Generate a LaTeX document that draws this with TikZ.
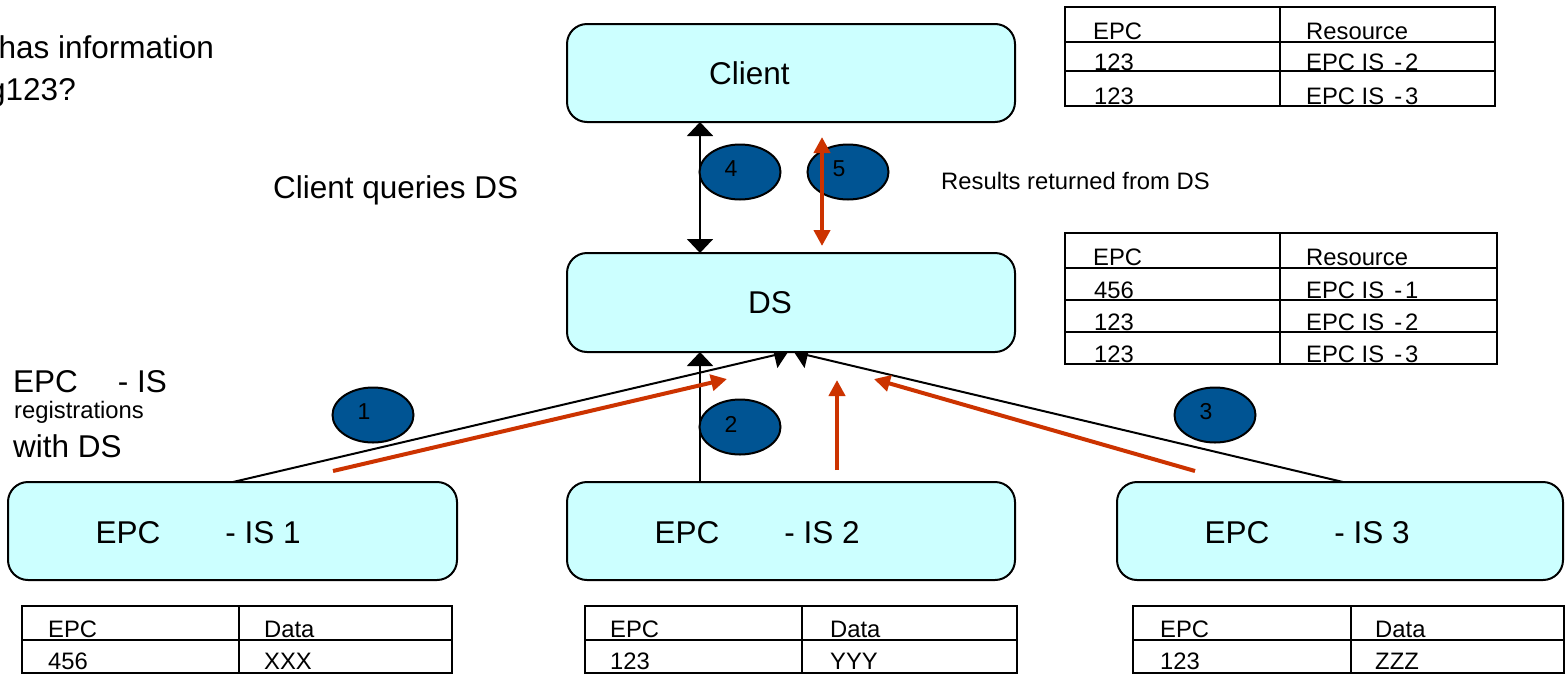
\documentclass[tikz,border=0pt]{standalone}
\usepackage{fontspec}
\setmainfont{Liberation Sans}
\usetikzlibrary{arrows.meta,shapes.geometric,calc}
\pgfdeclarelayer{background}
\pgfsetlayers{background,main}
\definecolor{boxfill}{RGB}{204,255,255}
\definecolor{numfill}{RGB}{0,84,147}
\definecolor{redarr}{RGB}{204,51,0}
\begin{document}
\begin{tikzpicture}[x=1pt,y=-1pt,
  box/.style={draw=black,line width=2pt,fill=boxfill,rounded corners=20pt,minimum width=448pt,minimum height=98pt,inner sep=0pt,outer sep=0pt},
  num/.style={ellipse,draw=black,line width=2pt,fill=numfill,minimum width=81pt,minimum height=55pt,inner sep=0pt,outer sep=0pt},
  digit/.style={font=\fontsize{23}{26}\selectfont,inner sep=0pt},
  bigtxt/.style={font=\fontsize{31.5}{36}\selectfont,inner sep=0pt,anchor=base west},
  smalltxt/.style={font=\fontsize{23.8}{27}\selectfont,inner sep=0pt,anchor=base west},
  tabline/.style={draw=black,line width=2.5pt},
  blk/.style={draw=black,line width=2pt},
  blktip/.tip={Triangle[width=26pt,length=14pt]},
  redline/.style={draw=redarr,line width=4pt,-{Triangle[width=16pt,length=16pt]}},
  redboth/.style={draw=redarr,line width=4pt,{Triangle[width=16pt,length=16pt]}-{Triangle[width=16pt,length=16pt]}}
]
\useasboundingbox (0,0) rectangle (1566,678);

% boxes
\node[box] (client) at (791,73) {};
\node[box,minimum height=99pt] (ds) at (791,302.5) {};
\node[box,minimum width=449pt] (is1) at (232.5,531) {};
\node[box] (is2) at (791,531) {};
\node[box,minimum width=446pt] (is3) at (1340,531) {};

% box texts
\node[bigtxt] (tclient) at (709,84) {Client};
\node[bigtxt] (tds) at (748,313) {DS};
\node[bigtxt] (tis1) at (95.5,543) {EPC\hspace{65pt}- IS 1};
\node[bigtxt] (tis2) at (654.5,543) {EPC\hspace{65pt}- IS 2};
\node[bigtxt] (tis3) at (1204.5,543) {EPC\hspace{65pt}- IS 3};

% black connectors (behind boxes)
\begin{pgfonlayer}{background}
\fill[white] (0,0) rectangle (1566,678);
\draw[blk,blktip-blktip] ($(client.south west)+(133,0)$) -- ($(ds.north west)+(133,0)$);
\draw[blk,-blktip] ($(is2.north west)+(133,0)$) -- ($(ds.south west)+(133,0)$);
\draw[blk,-blktip] ($(is1.north west)+(225,0)$) -- ($(ds.south west)+(221,0)$);
\draw[blk,-blktip] ($(is3.north west)+(226,0)$) -- ($(ds.south west)+(227,0)$);
\end{pgfonlayer}

% numbered ellipses
\node[num] (e1) at (373,415) {};
\node[num] (e2) at (740,427) {};
\node[num] (e3) at (1215,415) {};
\node[num] (e4) at (740,172) {};
\node[num] (e5) at (848,172) {};
\node[digit] (d1) at ($(e1)+(-9,-3)$) {1};
\node[digit] (d2) at ($(e2)+(-9,-3)$) {2};
\node[digit] (d3) at ($(e3)+(-9,-3)$) {3};
\node[digit] (d4) at ($(e4)+(-9,-3)$) {4};
\node[digit] (d5) at ($(e5)+(-9,-3)$) {5};

% red arrows
\coordinate (r1s) at (333,471);
\coordinate (r1e) at (727,379);
\coordinate (r2s) at (837,470);
\coordinate (r2e) at (837,380);
\coordinate (r3s) at (1195,471);
\coordinate (r3e) at (874,379);
\coordinate (r5s) at (822,137);
\coordinate (r5e) at (822,246);
\draw[redline] (r1s) -- (r1e);
\draw[redline] (r2s) -- (r2e);
\draw[redline] (r3s) -- (r3e);
\draw[redboth] (r5s) -- (r5e);

% free texts
\node[bigtxt] (q1) at (-1.5,58) {has information};
\node[bigtxt] (q2) at (-12,100) {g123?};
\node[bigtxt] (cq) at (273,198) {Client queries DS};
\node[smalltxt] (res) at (941,189) {Results returned from DS};
\node[bigtxt] (reg1) at (13,392) {EPC\hspace{40pt}- IS};
\node[smalltxt] (reg2) at (14,418) {registrations};
\node[bigtxt] (reg3) at (13,457) {with DS};

% client table
\draw[tabline] (1065,7) rectangle (1495,106);
\draw[tabline] (1065,42) -- (1495,42);
\draw[tabline] (1065,71) -- (1495,71);
\draw[tabline] (1280,7) -- (1280,106);
\node[smalltxt] (ct1) at (1093,39) {EPC};
\node[smalltxt] (ct2) at (1306,39) {Resource};
\node[smalltxt] (ct3) at (1094,70) {123};
\node[smalltxt] (ct4) at (1306,70) {EPC IS\hspace{10pt}-\hspace{3pt}2};
\node[smalltxt] (ct5) at (1094,104) {123};
\node[smalltxt] (ct6) at (1306,104) {EPC IS\hspace{10pt}-\hspace{3pt}3};

% DS table
\draw[tabline] (1065,233) rectangle (1497,364);
\draw[tabline] (1065,268) -- (1497,268);
\draw[tabline] (1065,300) -- (1497,300);
\draw[tabline] (1065,332) -- (1497,332);
\draw[tabline] (1280,233) -- (1280,364);
\node[smalltxt] (dt1) at (1093,265) {EPC};
\node[smalltxt] (dt2) at (1306,265) {Resource};
\node[smalltxt] (dt3) at (1094,298) {456};
\node[smalltxt] (dt4) at (1306,298) {EPC IS\hspace{10pt}-\hspace{3pt}1};
\node[smalltxt] (dt5) at (1094,330) {123};
\node[smalltxt] (dt6) at (1306,330) {EPC IS\hspace{10pt}-\hspace{3pt}2};
\node[smalltxt] (dt7) at (1094,362) {123};
\node[smalltxt] (dt8) at (1306,362) {EPC IS\hspace{10pt}-\hspace{3pt}3};

% bottom tables
\draw[tabline] (22,606) rectangle (452,673);
\draw[tabline] (22,640) -- (452,640);
\draw[tabline] (239,606) -- (239,673);
\node[smalltxt] (b1a) at (48,637) {EPC};
\node[smalltxt] (b1b) at (264,637) {Data};
\node[smalltxt] (b1c) at (48,669) {456};
\node[smalltxt] (b1d) at (264,669) {XXX};

\draw[tabline] (585,606) rectangle (1017,673);
\draw[tabline] (585,640) -- (1017,640);
\draw[tabline] (802,606) -- (802,673);
\node[smalltxt] (b2a) at (610,637) {EPC};
\node[smalltxt] (b2b) at (830,637) {Data};
\node[smalltxt] (b2c) at (610,669) {123};
\node[smalltxt] (b2d) at (830,669) {YYY};

\draw[tabline] (1133,606) rectangle (1564,673);
\draw[tabline] (1133,640) -- (1564,640);
\draw[tabline] (1351,606) -- (1351,673);
\node[smalltxt] (b3a) at (1160,637) {EPC};
\node[smalltxt] (b3b) at (1375,637) {Data};
\node[smalltxt] (b3c) at (1160,669) {123};
\node[smalltxt] (b3d) at (1375,669) {ZZZ};
\end{tikzpicture}
\end{document}
